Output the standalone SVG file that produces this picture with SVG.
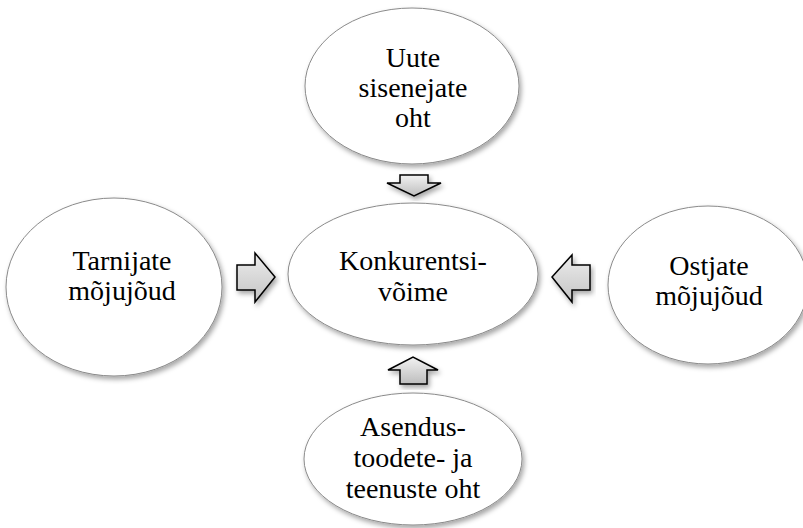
<svg xmlns="http://www.w3.org/2000/svg" width="803" height="528" viewBox="0 0 803 528">
<defs>
<filter id="sh" x="-10%" y="-10%" width="125%" height="130%">
<feDropShadow dx="2" dy="3" stdDeviation="2.5" flood-color="#000" flood-opacity="0.35"/>
</filter>
<linearGradient id="gv" x1="0" y1="0" x2="0" y2="1">
<stop offset="0" stop-color="#f2f2f2"/>
<stop offset="1" stop-color="#bdbdbd"/>
</linearGradient>
<linearGradient id="gh" x1="0" y1="0" x2="0" y2="1">
<stop offset="0" stop-color="#ececec"/>
<stop offset="1" stop-color="#c4c4c4"/>
</linearGradient>
</defs>
<style>
.node ellipse{fill:#fff;stroke:#8a8a8a;stroke-width:1;filter:url(#sh)}
.node text{font-family:'Liberation Serif','Times New Roman',serif;font-size:28px;fill:#000;text-anchor:middle}
.arr path{stroke:#000;stroke-width:1.5;stroke-linejoin:miter;filter:url(#sh)}
</style>
<rect width="803" height="528" fill="#fff"/>
<g id="top" class="node">
<ellipse cx="412" cy="86" rx="107" ry="78"/>
<text x="413" y="67">Uute</text>
<text x="413" y="97">sisenejate</text>
<text x="413" y="127">oht</text>
</g>
<g id="left" class="node">
<ellipse cx="114" cy="287" rx="108" ry="89"/>
<text x="122" y="270">Tarnijate</text>
<text x="122" y="300">mõjujõud</text>
</g>
<g id="center" class="node">
<ellipse cx="413" cy="274" rx="125" ry="71"/>
<text x="413" y="270">Konkurentsi-</text>
<text x="413" y="301">võime</text>
</g>
<g id="right" class="node">
<ellipse cx="708" cy="285" rx="100" ry="79"/>
<text x="709" y="275">Ostjate</text>
<text x="709" y="305">mõjujõud</text>
</g>
<g id="bottom" class="node">
<ellipse cx="413" cy="459" rx="109" ry="66"/>
<text x="413" y="436">Asendus-</text>
<text x="413" y="467">toodete- ja</text>
<text x="413" y="498">teenuste oht</text>
</g>
<g id="connectors" class="arr">
<path d="M400,175 H428 V183 H441 L414,196 L387,183 H400 Z" fill="url(#gv)"/>
<path d="M400,384 H427 V370 H438 L413,357 L388,370 H400 Z" fill="url(#gv)"/>
<path d="M237,265 H255 V253 L275,277 L255,302 V290 H237 Z" fill="url(#gh)"/>
<path d="M590,265 H572 V255 L552,277 L572,302 V290 H590 Z" fill="url(#gh)"/>
</g>
</svg>
